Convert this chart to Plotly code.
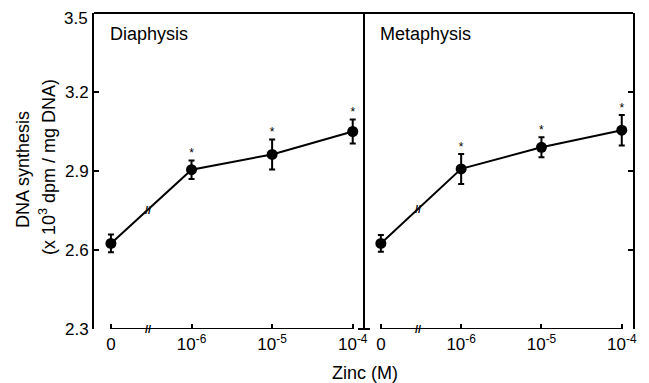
import plotly.graph_objects as go

# ---- data ----
zinc_labels = ["0", "10<sup>-6</sup>", "10<sup>-5</sup>", "10<sup>-4</sup>"]
panels = ["Diaphysis", "Metaphysis"]
diaphysis_mean = [2.625, 2.905, 2.963, 3.050]
diaphysis_err = [0.034, 0.035, 0.057, 0.046]
metaphysis_mean = [2.625, 2.908, 2.990, 3.055]
metaphysis_err = [0.032, 0.057, 0.038, 0.058]
significant = [False, True, True, True]
y_ticks = [2.3, 2.6, 2.9, 3.2, 3.5]
y_tick_labels = ["2.3", "2.6", "2.9", "3.2", "3.5"]
break_pos = 0.46  # position of axis break between 0 and 10^-6

# page body has an 8px margin: shrink figure so the plot lands where wanted
OFF = 8
W, H = 649 - OFF, 383 - OFF
LW, TW, RW, BW = 94, 13, 633, 329   # plot area edges in window pixels
L, T = LW - OFF, TW - OFF
R = W - (RW - OFF)
B = H - (BW - OFF)
pw = RW - LW
ph = BW - TW
split = (364 - LW) / pw

FONT = "Liberation Sans, Arial, sans-serif"

fig = go.Figure()
xpos = list(range(len(zinc_labels)))

for i, (mean, err) in enumerate([(diaphysis_mean, diaphysis_err), (metaphysis_mean, metaphysis_err)]):
    xa = "x" if i == 0 else "x2"
    ya = "y" if i == 0 else "y2"
    fig.add_trace(go.Scatter(
        x=xpos, y=mean, mode="lines+markers", xaxis=xa, yaxis=ya,
        line=dict(color="black", width=2),
        marker=dict(color="black", size=11),
        error_y=dict(type="data", array=err, color="black", thickness=2, width=3),
        showlegend=False, hoverinfo="skip"))
    sx = [x for x, s in zip(xpos, significant) if s]
    sy = [m + e for m, e, s in zip(mean, err, significant) if s]
    fig.add_trace(go.Scatter(
        x=sx, y=sy, mode="text", text=["*"] * len(sx), textposition="top center",
        textfont=dict(family=FONT, size=12, color="black"),
        xaxis=xa, yaxis=ya, showlegend=False, hoverinfo="skip"))
    # break marks
    yb = mean[0] + (mean[1] - mean[0]) * break_pos
    for yy in (yb, y_ticks[0]):
        fig.add_annotation(x=break_pos, y=yy, xref=xa, yref=ya, text="<b>//</b>", showarrow=False,
                           font=dict(family=FONT, size=11, color="black"),
                           xanchor="center", yanchor="middle")
    # x axis baseline from first to last category
    fig.add_shape(type="line", xref=xa, yref=ya, x0=xpos[0], x1=xpos[-1],
                  y0=y_ticks[0], y1=y_ticks[0], line=dict(color="black", width=2))
    # panel label
    fig.add_annotation(x=(0 if i == 0 else split) + 14 / pw, y=(BW - 34) / ph,
                       xref="paper", yref="paper", text=panels[i], showarrow=False,
                       xanchor="left", yanchor="middle",
                       font=dict(family=FONT, size=18, color="black"))

xcommon = dict(range=[-0.21, 3.14], tickmode="array", tickvals=xpos, ticktext=zinc_labels,
               ticks="inside", ticklen=5, tickwidth=2, tickcolor="black",
               showline=False, showgrid=False, zeroline=False, automargin=False,
               ticklabelstandoff=3, ticklabeloverflow="allow",
               tickfont=dict(family=FONT, size=17, color="black"))
# the top tick label sits at the very edge of the page; it is drawn as an annotation
ytext = y_tick_labels[:-1] + [""]
fig.update_layout(
    template="none",
    xaxis=dict(xcommon, domain=[0, split], anchor="y"),
    xaxis2=dict(xcommon, domain=[split, 1], anchor="y2"),
    yaxis=dict(range=[2.3, 3.5], tickvals=y_ticks, ticktext=ytext,
               ticks="inside", ticklen=5, tickwidth=2, tickcolor="black", automargin=False,
               ticklabeloverflow="allow",
               showline=True, linecolor="black", linewidth=2, showgrid=False, zeroline=False,
               tickfont=dict(family=FONT, size=17, color="black"), anchor="x", domain=[0, 1]),
    yaxis2=dict(range=[2.3, 3.5], tickvals=y_ticks[:-1], showticklabels=False, side="right",
                ticks="inside", ticklen=5, tickwidth=2, tickcolor="black", automargin=False,
                showline=True, linecolor="black", linewidth=2, showgrid=False, zeroline=False,
                anchor="x2", domain=[0, 1]),
    width=W, height=H, margin=dict(l=L, r=R, t=T, b=B),
    plot_bgcolor="white", paper_bgcolor="white",
)
fig.add_annotation(x=(89 - LW) / pw, y=(BW - OFF) / ph, xref="paper", yref="paper",
                   text=y_tick_labels[-1], showarrow=False, xanchor="right", yanchor="top",
                   borderpad=0, font=dict(family=FONT, size=17, color="black"))

# frame: top line, divider, divider foot
fig.add_shape(type="line", xref="paper", yref="paper", x0=0, x1=1, y0=1, y1=1,
              line=dict(color="black", width=2))
fig.add_shape(type="line", xref="paper", yref="paper", x0=split, x1=split, y0=0, y1=1,
              line=dict(color="black", width=2))
fig.add_shape(type="line", xref="paper", yref="paper", x0=split - 6 / pw, x1=split + 6 / pw,
              y0=0, y1=0, line=dict(color="black", width=2))

# axis titles
fig.add_annotation(x=(23 - LW) / pw, y=(BW - 170) / ph, xref="paper", yref="paper",
                   text="DNA synthesis", textangle=-90, showarrow=False,
                   xanchor="center", yanchor="middle",
                   font=dict(family=FONT, size=18, color="black"))
fig.add_annotation(x=(47 - LW) / pw, y=(BW - 167) / ph, xref="paper", yref="paper",
                   text="(x 10<sup>3</sup> dpm / mg DNA)", textangle=-90, showarrow=False,
                   xanchor="center", yanchor="middle",
                   font=dict(family=FONT, size=18, color="black"))
fig.add_annotation(x=(365 - LW) / pw, y=(BW - 373) / ph, xref="paper", yref="paper",
                   text="Zinc (M)", showarrow=False, xanchor="center", yanchor="middle",
                   font=dict(family=FONT, size=18, color="black"))

fig.write_html("out.html")
